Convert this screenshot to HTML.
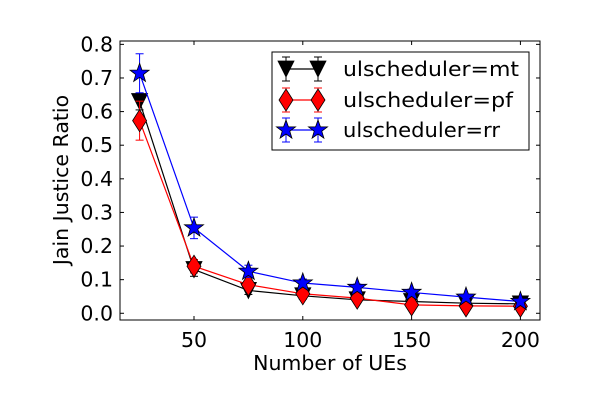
<!DOCTYPE html>
<html><head><meta charset="utf-8"><style>
body{margin:0;background:#fff;}
svg{display:block;font-family:"DejaVu Sans","Liberation Sans",sans-serif;}
</style></head><body>
<svg id="chart" width="600" height="400" xmlns="http://www.w3.org/2000/svg">
<rect width="600" height="400" fill="#fff"/>
<g id="plot"></g>
</svg>
<script>
const xs=[25,50,75,100,125,150,175,200];
const mt=[0.63,0.13,0.068,0.052,0.04,0.035,0.03,0.028];
const mtErr=[0.025,0.02,0.012,0.01,0.008,0.008,0.006,0.006];
const pf=[0.573,0.14,0.085,0.058,0.045,0.025,0.022,0.021];
const pfErr=[0.058,0.02,0.012,0.01,0.008,0.006,0.006,0.006];
const rr=[0.714,0.254,0.125,0.09,0.077,0.062,0.048,0.035];
const rrErr=[0.058,0.032,0.018,0.012,0.01,0.01,0.008,0.006];
const xTicks=[50,100,150,200];
const yTicks=[0,0.1,0.2,0.3,0.4,0.5,0.6,0.7,0.8];
const L=120,R=540,T=41,B=320,X0=16,X1=209,Y0=-0.02,Y1=0.81;
const sx=v=>L+(v-X0)/(X1-X0)*(R-L);
const sy=v=>B-(v-Y0)/(Y1-Y0)*(B-T);
const NS="http://www.w3.org/2000/svg";
const g=document.getElementById('plot');
function el(t,a,p){const e=document.createElementNS(NS,t);for(const k in a)e.setAttribute(k,a[k]);(p||g).appendChild(e);return e;}
xTicks.forEach(v=>{const x=sx(v);
 const t=el('line',{x1:x,x2:x,y1:B,y2:B-4,stroke:'#000'});
 
 el('line',{x1:x,x2:x,y1:T,y2:T+4,stroke:'#000'});
 const tx=el('text',{x:x,y:B+27,'text-anchor':'middle','font-size':20.5});tx.textContent=v;
 });
yTicks.forEach(v=>{const y=sy(v);
 el('line',{x1:L,x2:L+4,y1:y,y2:y,stroke:'#000'});
 el('line',{x1:R,x2:R-4,y1:y,y2:y,stroke:'#000'});
 const tx=el('text',{x:L-7,y:y+7,'text-anchor':'end','font-size':20.5});tx.textContent=v.toFixed(1);
 });
function tri(x,y,c){return el('polygon',{points:`${x-8},${y-8} ${x+8},${y-8} ${x},${y+8}`,fill:c,stroke:'#000','stroke-width':0.8});}
function dia(x,y,c){return el('polygon',{points:`${x},${y-11} ${x+7},${y} ${x},${y+11} ${x-7},${y}`,fill:c,stroke:'#000','stroke-width':0.8});}
function star(x,y,c){let p=[];for(let i=0;i<10;i++){const r=i%2?4:10,a=-Math.PI/2+i*Math.PI/5;p.push((x+r*Math.cos(a)).toFixed(1)+','+(y+r*Math.sin(a)).toFixed(1));}return el('polygon',{points:p.join(' '),fill:c,stroke:'#000','stroke-width':0.8});}
function series(vals,errs,color,mk,name){
 const pl=el('polyline',{points:xs.map((x,i)=>sx(x)+','+sy(vals[i])).join(' '),fill:'none',stroke:color,'stroke-width':1.2});
 
 xs.forEach((x,i)=>{const px=sx(x),a=sy(vals[i]+errs[i]),b=sy(vals[i]-errs[i]);
  el('line',{x1:px,x2:px,y1:a,y2:b,stroke:color});
  el('line',{x1:px-4,x2:px+4,y1:a,y2:a,stroke:color});
  el('line',{x1:px-4,x2:px+4,y1:b,y2:b,stroke:color});});
 xs.forEach((x,i)=>{const m=mk(sx(x),sy(vals[i]),color);
  });
}
series(mt,mtErr,'#000',(x,y)=>tri(x,y,'#000'),'mt');
series(pf,pfErr,'red',(x,y)=>dia(x,y,'red'),'pf');
series(rr,rrErr,'blue',(x,y)=>star(x,y,'blue'),'rr');
const fr=el('rect',{x:L,y:T,width:R-L,height:B-T,fill:'none',stroke:'#000'});

const lg=el('g',{});

el('rect',{x:272,y:52,width:257,height:98,fill:'#fff',stroke:'#000'},lg);
const ent=[['ulscheduler=mt','#000',tri,69],['ulscheduler=pf','red',dia,100],['ulscheduler=rr','blue',star,130]];
ent.forEach(([t,c,f,y])=>{
 el('line',{x1:286,x2:318,y1:y,y2:y,stroke:c,'stroke-width':1.2},lg);
 [286,318].forEach(x=>{el('line',{x1:x,x2:x,y1:y-12,y2:y+12,stroke:c},lg);el('line',{x1:x-4,x2:x+4,y1:y-12,y2:y-12,stroke:c},lg);el('line',{x1:x-4,x2:x+4,y1:y+12,y2:y+12,stroke:c},lg);lg.appendChild(f(x,y,c));});
 const tx=el('text',{x:343,y:y+7,'font-size':20.5,textLength:176,lengthAdjust:'spacingAndGlyphs'},lg);tx.textContent=t;
 if(t.endsWith('pf'))tx.setAttribute('textLength',170);
 if(t.endsWith('rr'))tx.setAttribute('textLength',157);
 
});
const xl=el('text',{x:330,y:370,'text-anchor':'middle','font-size':20.5});xl.textContent='Number of UEs';

const yl=el('text',{x:0,y:0,'text-anchor':'middle','font-size':20.5,transform:'translate(68,180) rotate(-90)'});yl.textContent='Jain Justice Ratio';

</script>
</body></html>
